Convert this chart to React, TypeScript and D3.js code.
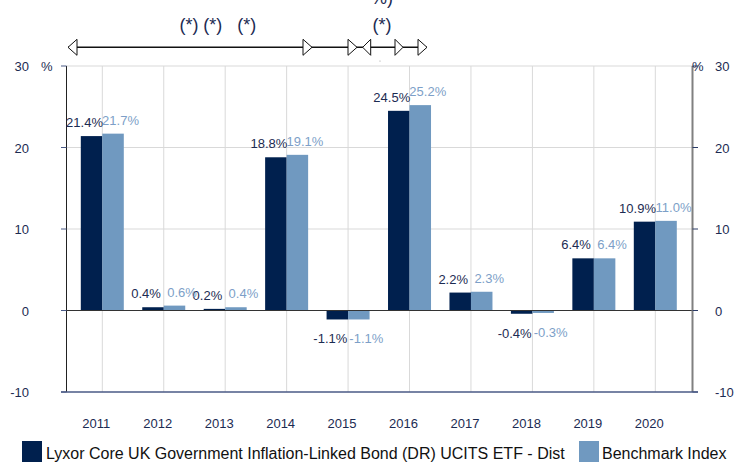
import React from "react";
import * as d3 from "d3";

const years = ["2011","2012","2013","2014","2015","2016","2017","2018","2019","2020"];
const fundValues = [21.4, 0.4, 0.2, 18.8, -1.1, 24.5, 2.2, -0.4, 6.4, 10.9];
const benchValues = [21.7, 0.6, 0.4, 19.1, -1.1, 25.2, 2.3, -0.3, 6.4, 11.0];
const yTicks = [-10, 0, 10, 20, 30];
const seriesNames = ["Lyxor Core UK Government Inflation-Linked Bond (DR) UCITS ETF - Dist", "Benchmark Index"];

const DARK = "#00204e";
const LIGHT = "#7099c0";
const DARK_TXT = "#1c2b52";
const LIGHT_TXT = "#7d9fc8";
const FONT = "'Liberation Sans', Arial, sans-serif";

export default function App() {
  const W = 740, H = 462;
  const left = 66.5, right = 692.5;
  const y = d3.scaleLinear().domain([-10, 30]).range([392, 66]);
  const x = d3.scalePoint<string>().domain(years).range([102.3, 655.3]);
  const bw = 21.5;
  const y0 = y(0);

  const fmt = (v: number) => v.toFixed(1) + "%";

  return (
    <svg width={W} height={H} style={{ position: "absolute", left: 0, top: 0, background: "#fff" }} fontFamily={FONT}>
      {yTicks.filter(t => t > 0).map(t => (
        <line key={"hg" + t} x1={left} x2={right} y1={y(t)} y2={y(t)} stroke="#d9d9d9" strokeWidth={1} />
      ))}
      {years.map(c => (
        <line key={"vg" + c} x1={x(c)!} x2={x(c)!} y1={y(30)} y2={y(-10)} stroke="#d9d9d9" strokeWidth={1} />
      ))}
      {years.map((c, i) => {
        const v = fundValues[i];
        return <rect key={"f" + c} x={x(c)! - bw} width={bw} y={Math.min(y(v), y0)} height={Math.abs(y(v) - y0)} fill={DARK} />;
      })}
      {years.map((c, i) => {
        const v = benchValues[i];
        return <rect key={"b" + c} x={x(c)!} width={bw} y={Math.min(y(v), y0)} height={Math.abs(y(v) - y0)} fill={LIGHT} />;
      })}
      <line x1={61} x2={right} y1={y0} y2={y0} stroke="#333" strokeWidth={1} />
      <line x1={left} x2={left} y1={y(30)} y2={y(-10)} stroke="#222" strokeWidth={1} />
      {yTicks.map(t => (
        <line key={"lt" + t} x1={61} x2={left} y1={y(t)} y2={y(t)} stroke="#4a5a86" strokeWidth={1} />
      ))}
      <line x1={right} x2={right} y1={y(30)} y2={y(-10)} stroke="#808080" strokeWidth={2} />
      {yTicks.map(t => (
        <line key={"rt" + t} x1={right} x2={698} y1={y(t)} y2={y(t)} stroke="#2a3a66" strokeWidth={1} />
      ))}
      <line x1={61} x2={698} y1={y(-10)} y2={y(-10)} stroke="#4a5a86" strokeWidth={1.5} />
      {yTicks.map(t => (
        <text key={"ll" + t} x={29} y={y(t) + 5} textAnchor="end" fontSize={13} fill={DARK_TXT}>{t}</text>
      ))}
      {yTicks.map(t => (
        <text key={"rl" + t} x={715} y={y(t) + 5} textAnchor="start" fontSize={13} fill={DARK_TXT}>{t}</text>
      ))}
      <text x={41} y={y(30) + 5} fontSize={13} fill={DARK_TXT}>%</text>
      <text x={692} y={y(30) + 5} fontSize={13} fill={DARK_TXT}>%</text>
      {years.map(c => (
        <text key={"yl" + c} x={x(c)! - 6} y={428} textAnchor="middle" fontSize={13} fill={DARK_TXT}>{c}</text>
      ))}
      {years.map((c, i) => {
        const v = fundValues[i];
        const ty = v >= 0 ? y(v) - 9 : y(v) + 24;
        return <text key={"fl" + c} x={x(c)! - bw / 2 - 7} y={ty} textAnchor="middle" fontSize={13} fill={DARK_TXT}>{fmt(v)}</text>;
      })}
      {years.map((c, i) => {
        const v = benchValues[i];
        const ty = v >= 0 ? y(v) - 9 : y(v) + 24;
        return <text key={"bl" + c} x={x(c)! + bw / 2 + 7.5} y={ty} textAnchor="middle" fontSize={13} fill={LIGHT_TXT}>{fmt(v)}</text>;
      })}
      <line x1={68} x2={427} y1={47.3} y2={47.3} stroke="#111" strokeWidth={1.5} />
      {[
        { tip: 68, base: 77 },
        { tip: 312, base: 303 },
        { tip: 357, base: 348 },
        { tip: 362.7, base: 370.7 },
        { tip: 403, base: 395 },
        { tip: 427, base: 418 },
      ].map((a, i) => (
        <path key={"ar" + i} d={`M${a.tip},47.3 L${a.base},39.3 L${a.base},55.3 Z`} fill="#fff" stroke="#111" strokeWidth={1} />
      ))}
      {[189, 212.7, 246.7, 382].map((cx, i) => (
        <text key={"st" + i} x={cx} y={31} textAnchor="middle" fontSize={18} fill={DARK_TXT}>(*)</text>
      ))}
      <text x={382} y={4} textAnchor="middle" fontSize={18} fill={DARK_TXT}>%)</text>
      <circle cx={380} cy={61} r={0.6} fill="#999" />
      <rect x={22} y={441} width={20} height={21} fill={DARK} />
      <text x={46} y={459} fontSize={16} fill="#111">{seriesNames[0]}</text>
      <rect x={579} y={441} width={20} height={21} fill={LIGHT} />
      <text x={602} y={459} fontSize={16} fill="#111">{seriesNames[1]}</text>
    </svg>
  );
}
